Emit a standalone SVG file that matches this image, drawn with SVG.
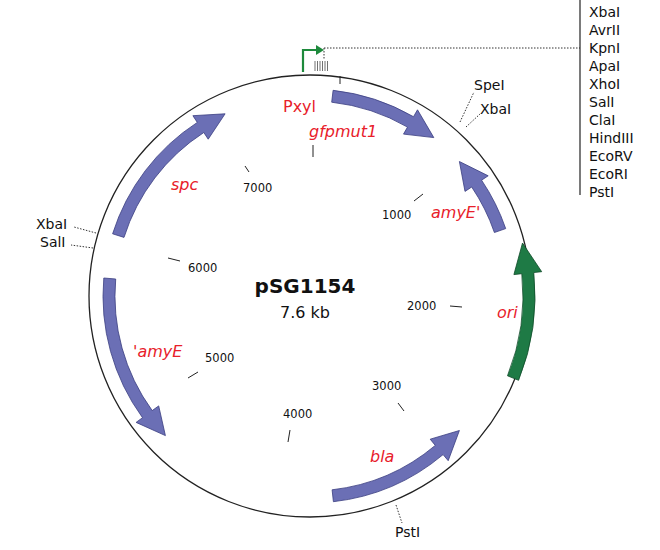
<svg xmlns="http://www.w3.org/2000/svg" width="660" height="550" viewBox="0 0 660 550">
<style>
.gene{fill:#6b6fb5;stroke:#3a3d80;stroke-width:0.8}
.ori{fill:#1e7a45;stroke:#0f4a28;stroke-width:0.8}
.lbl{font-family:"DejaVu Sans",sans-serif;font-size:14px;fill:#111}
.num{font-family:"DejaVu Sans",sans-serif;font-size:11.5px;fill:#111}
.red{font-family:"DejaVu Sans",sans-serif;font-size:16px;fill:#e8202a;font-style:italic}
.tick{stroke:#222;stroke-width:1}
.dot{stroke:#333;stroke-width:1;stroke-dasharray:1.5 1.5;fill:none}
</style>
<rect width="660" height="550" fill="#fff"/>
<circle cx="310" cy="296" r="221" fill="none" stroke="#222" stroke-width="1.3"/>
<g id="connectors">
<line class="tick" x1="340" y1="76" x2="340" y2="84"/>
<line class="tick" x1="313" y1="145" x2="313" y2="157"/>
<line class="tick" x1="245" y1="166" x2="249" y2="172"/>
<line class="tick" x1="414" y1="201" x2="423" y2="194"/>
<line class="tick" x1="450" y1="306" x2="462" y2="307"/>
<line class="tick" x1="398" y1="403" x2="404" y2="411"/>
<line class="tick" x1="290" y1="430" x2="288" y2="442"/>
<line class="tick" x1="188" y1="378" x2="198" y2="372"/>
<line class="tick" x1="168" y1="258" x2="180" y2="261"/>
<line class="dot" x1="460" y1="122" x2="474" y2="92"/>
<line class="dot" x1="466" y1="127" x2="480" y2="114"/>
<line class="dot" x1="96" y1="233" x2="74" y2="227"/>
<line class="dot" x1="93" y1="248" x2="71" y2="245"/>
<line class="dot" x1="396" y1="505" x2="402" y2="523"/>
<line class="dot" x1="324" y1="48" x2="580" y2="48"/>
<line class="dot" x1="324" y1="48" x2="324" y2="60"/>
<line x1="580" y1="0" x2="580" y2="195" stroke="#222" stroke-width="1.2"/>
<g stroke="#111" stroke-width="0.6">
<line x1="315" y1="61" x2="315" y2="71"/><line x1="317.5" y1="61" x2="317.5" y2="71"/>
<line x1="320" y1="61" x2="320" y2="71"/><line x1="322.5" y1="61" x2="322.5" y2="71"/>
<line x1="325" y1="61" x2="325" y2="71"/><line x1="327.5" y1="61" x2="327.5" y2="71"/>
</g>
<path d="M303,72 V50 H317" fill="none" stroke="#1e8a3c" stroke-width="2.2"/>
<path d="M316,45 L324,50 L316,55 Z" fill="#1e8a3c"/>
</g>
<g id="gene-gfpmut1"><path class="gene" d="M333.1,90.3 A207,207 0 0 1 413.5,116.7 L417.5,109.8 L433.8,137.6 L403.5,134.1 L407.5,127.1 A195,195 0 0 0 331.7,102.2 Z"/></g>
<g id="gene-amyE1"><path class="gene" d="M505.7,228.6 A207 207 0 0 0 481.6,180.2 L488.2,175.8 L459.4,161.5 L465.0,191.4 L471.7,187.0 A195 195 0 0 1 494.4,232.5 Z"/></g>
<g id="gene-ori"><path class="ori" d="M518.6,380.3 A225 225 0 0 0 533.8,272.5 L541.7,271.7 L522.5,243.0 L513.9,274.6 L521.8,273.7 A213 213 0 0 1 507.5,375.8 Z"/></g>
<g id="gene-bla"><path class="gene" d="M333.4,501.7 A207 207 0 0 0 443.1,454.6 L448.2,460.7 L459.4,430.5 L430.2,439.2 L435.3,445.4 A195 195 0 0 1 332.1,489.8 Z"/></g>
<g id="gene-amyE2"><path class="gene" d="M103.8,278.0 A207 207 0 0 0 142.5,417.7 L136.1,422.4 L165.4,435.6 L158.7,405.9 L152.2,410.6 A195 195 0 0 1 115.7,279.0 Z"/></g>
<g id="gene-spc"><path class="gene" d="M112.6,233.8 A207 207 0 0 1 197.3,122.4 L192.9,115.7 L225.1,113.8 L208.2,139.2 L203.8,132.5 A195 195 0 0 0 124.0,237.4 Z"/></g>
<g id="labels">
<text class="red" x="283" y="112" style="font-style:normal">Pxyl</text>
<text class="red" x="309" y="137">gfpmut1</text>
<text class="red" x="171" y="190">spc</text>
<text class="red" x="431" y="218">amyE'</text>
<text class="red" x="497" y="318">ori</text>
<text class="red" x="133" y="357">'amyE</text>
<text class="red" x="370" y="462">bla</text>
<text class="num" x="243" y="192">7000</text>
<text class="num" x="382" y="219">1000</text>
<text class="num" x="407" y="310">2000</text>
<text class="num" x="372" y="390">3000</text>
<text class="num" x="283" y="418">4000</text>
<text class="num" x="205" y="362">5000</text>
<text class="num" x="188" y="272">6000</text>
<text x="305" y="293" text-anchor="middle" font-family="DejaVu Sans,sans-serif" font-size="20" font-weight="bold" fill="#111">pSG1154</text>
<text x="305" y="318" text-anchor="middle" font-family="DejaVu Sans,sans-serif" font-size="16" fill="#111">7.6 kb</text>
<text class="lbl" x="474" y="90">SpeI</text>
<text class="lbl" x="480" y="114">XbaI</text>
<text class="lbl" x="36" y="229">XbaI</text>
<text class="lbl" x="40" y="247">SalI</text>
<text class="lbl" x="395" y="537">PstI</text>
<text class="lbl" x="589" y="17">XbaI</text>
<text class="lbl" x="589" y="35">AvrII</text>
<text class="lbl" x="589" y="53">KpnI</text>
<text class="lbl" x="589" y="71">ApaI</text>
<text class="lbl" x="589" y="89">XhoI</text>
<text class="lbl" x="589" y="107">SalI</text>
<text class="lbl" x="589" y="125">ClaI</text>
<text class="lbl" x="589" y="143">HindIII</text>
<text class="lbl" x="589" y="161">EcoRV</text>
<text class="lbl" x="589" y="179">EcoRI</text>
<text class="lbl" x="589" y="197">PstI</text>
</g>
</svg>
